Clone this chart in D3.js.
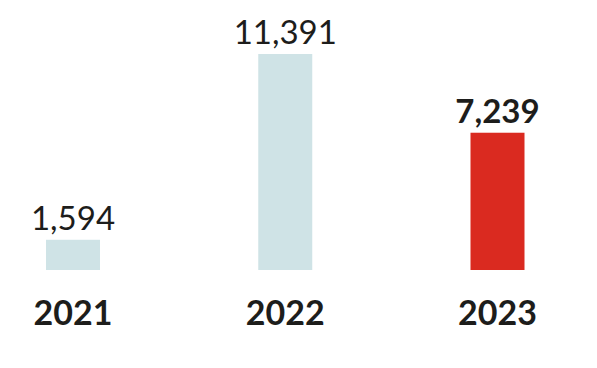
<!DOCTYPE html>
<html>
<head>
  <style type="text/css">
    body { margin: 0; background: #fff; }
    svg { display: block; }
    text { font-family: 'Lato', 'Open Sans', sans-serif; fill: #1d1d1b; }
  </style>
</head>
<body>
<svg id='vis' width="597" height="368"></svg>

<script src="https://cdnjs.cloudflare.com/ajax/libs/d3/7.8.5/d3.min.js"></script>
<script type="text/javascript">
  var years = ['2021', '2022', '2023']
  var values = [1594, 11391, 7239]
  var labels = ['1,594', '11,391', '7,239']
  var highlight = [false, false, true]

  var svg = d3.select('#vis')

  var xScale = d3.scalePoint()
    .domain(years)
    .range([73, 497.5])

  var yScale = d3.scaleLinear()
    .domain([0, d3.max(values)])
    .range([270, 54])

  var barW = 54

  var g = svg.selectAll('g.bar')
    .data(years)
    .enter()
    .append('g')
      .attr('class', 'bar')

  g.append('rect')
    .attr('x', function(d) { return xScale(d) - barW / 2 })
    .attr('y', function(d, i) { return yScale(values[i]) })
    .attr('width', barW)
    .attr('height', function(d, i) { return yScale(0) - yScale(values[i]) })
    .attr('fill', function(d, i) { return highlight[i] ? '#da2a20' : '#cfe3e6' })

  // value labels
  g.append('text')
    .attr('x', function(d) { return xScale(d) })
    .attr('y', function(d, i) { return yScale(values[i]) - 10 })
    .attr('text-anchor', 'middle')
    .style('font-size', '33px')
    .style('font-weight', function(d, i) { return highlight[i] ? 700 : 400 })
    .text(function(d, i) { return labels[i] })

  // year labels
  g.append('text')
    .attr('x', function(d) { return xScale(d) })
    .attr('y', 325)
    .attr('text-anchor', 'middle')
    .style('font-size', '34px')
    .style('font-weight', 700)
    .text(function(d) { return d })
</script>
</body>
</html>
